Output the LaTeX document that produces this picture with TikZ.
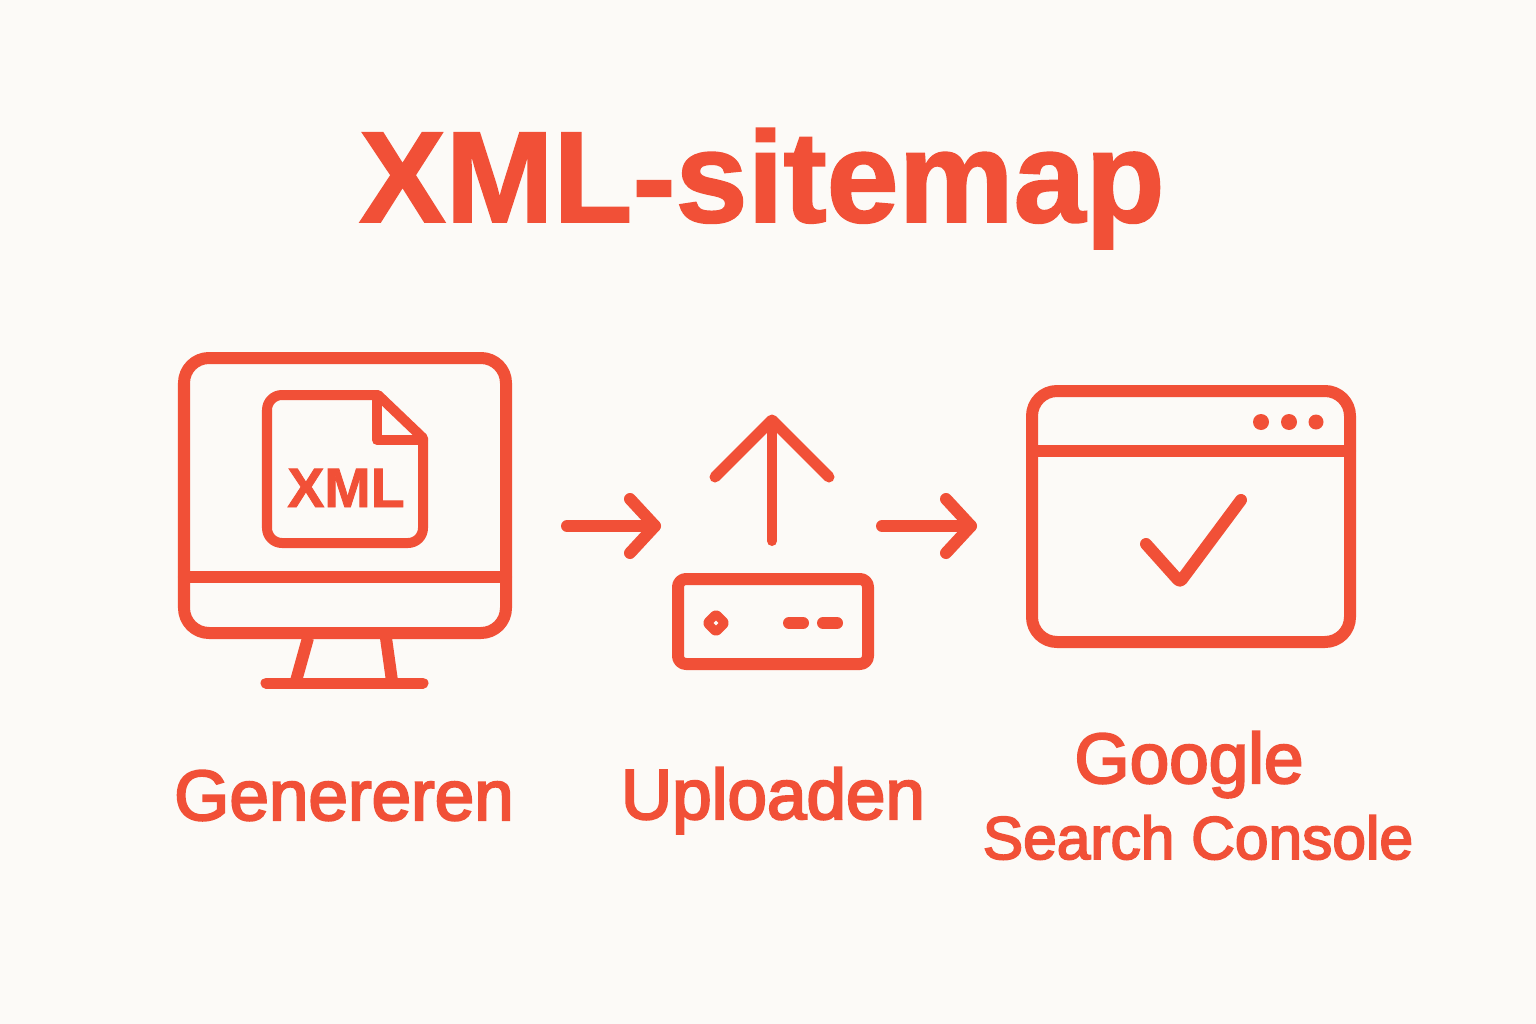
\documentclass[tikz,border=0pt]{standalone}
\usepackage{fontspec}
\setmainfont{Liberation Sans}
\newfontfamily\medfont[FakeBold=3]{Liberation Sans}
\newfontfamily\heavyfont[FakeBold=1.5]{Liberation Sans Bold}
\definecolor{R}{RGB}{241, 80, 55}
\definecolor{P}{RGB}{252, 250, 247}
\tikzset{
  icon/.style={draw=R, line width=0.12cm, line join=round, line cap=round},
  thin icon/.style={icon, line width=0.10cm},
  label/.style={text=R, anchor=base, inner sep=0pt, font=\medfont\fontsize{20.2}{24}\selectfont},
}
\begin{document}
\begin{tikzpicture}[x=0.01cm, y=-0.01cm]
   	\fill[color=P] (0,0) rectangle (1536,1024);
   	\useasboundingbox (0,0) rectangle (1536,1024);

	%Titulo
   	\node[text=R, anchor=base, inner sep=0pt, font=\heavyfont\fontsize{36.8}{40}\selectfont] (title) at (762,222) {XML-sitemap};

	%Monitor
   	\draw[icon, rounded corners=0.25cm] (184,358) rectangle (506,633);
   	\draw[icon] (184,577) -- (506,577);
   	\draw[icon, line cap=butt] (308,638) -- (296,681);
   	\draw[icon, line cap=butt] (386,638) -- (392,681);
   	\draw[icon, line width=0.11cm] (266,683) -- (423,683);

	%Documento XML
   	\draw[thin icon] (378,395) [rounded corners=0.15cm] -- (267,395) -- (267,543) -- (423,543) [sharp corners] -- (423,438) -- cycle;
   	\draw[thin icon] (377,395) -- (377,440) -- (423,440);
   	\node[text=R, anchor=base, inner sep=0pt, font=\heavyfont\fontsize{15.8}{18}\selectfont] (xml) at (346,507) {XML};

	%Flechas
   	\coordinate (a1) at (567,526);
   	\coordinate (a2) at (655,526);
   	\draw[icon] (a1) -- (a2);
   	\draw[icon] (630,499) -- (a2) -- (630,553);
   	\coordinate (b1) at (882,526);
   	\coordinate (b2) at (971,526);
   	\draw[icon] (b1) -- (b2);
   	\draw[icon] (946,499) -- (b2) -- (946,553);

	%Flecha hacia arriba
   	\coordinate (c1) at (772,541);
   	\coordinate (c2) at (772,420);
   	\draw[thin icon] (c1) -- (c2);
   	\draw[icon, line width=0.11cm] (715,477) -- (c2) -- (829,477);

	%Servidor
   	\draw[icon, rounded corners=0.08cm] (678,579) rectangle (868,664);
   	\draw[icon, line width=0.09cm, rounded corners=0.02cm] (716,614) -- (725,623) -- (716,632) -- (707,623) -- cycle;
   	\draw[icon] (789,623) -- (803,623);
   	\draw[icon] (823,623) -- (837,623);

	%Ventana
   	\draw[icon, rounded corners=0.25cm] (1032,391) rectangle (1350,642);
   	\draw[icon] (1032,451) -- (1350,451);
   	\fill[color=R] (1261,422) circle (8);
   	\fill[color=R] (1289,422) circle (8);
   	\fill[color=R] (1316,422) circle (7.5);
   	\draw[icon, rounded corners=0.03cm] (1146,544) -- (1180,582) -- (1241,500);

	%Etiquetas
   	\node[label] (gen) at (344,820) {Genereren};
   	\node[label] (upl) at (773,819) {Uploaden};
   	\node[label] (goo) at (1189,783) {Google};
   	\node[label, font=\medfont\fontsize{17.2}{20}\selectfont] (gsc) at (1198,859) {Search Console};
\end{tikzpicture}
\end{document}
